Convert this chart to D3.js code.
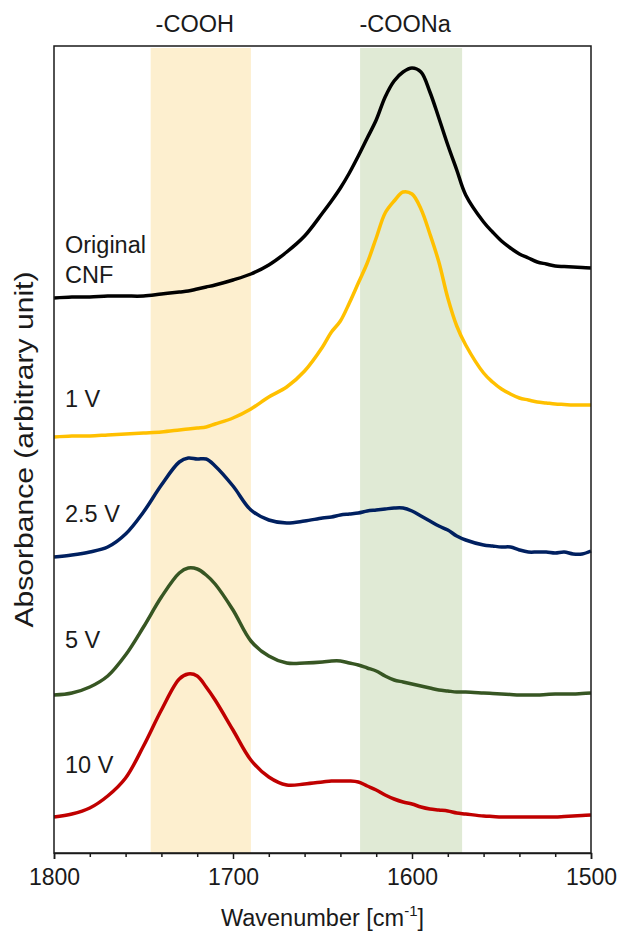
<!DOCTYPE html>
<html>
<head>
<meta charset="utf-8">
<script src="https://cdn.jsdelivr.net/npm/d3@7"></script>
<style>
  html, body { margin: 0; padding: 0; background: #fff; }
  svg text { font-family: "Liberation Sans", Arial, sans-serif; fill: #1a1a1a; }
</style>
</head>
<body>
<svg id="chart" width="620" height="941"></svg>
<script>
// ---- data ----
const wavenumbers = [1800,1790,1780,1770,1760,1750,1740,1730,1725,1720,1715,1710,1700,1690,1680,1670,1660,1650,1645,1640,1635,1630,1625,1620,1615,1610,1605,1600,1595,1590,1585,1580,1575,1570,1560,1555,1550,1545,1540,1535,1530,1525,1520,1515,1510,1505,1500];

const originalCNF = [5.55,5.56,5.56,5.57,5.57,5.57,5.59,5.61,5.62,5.64,5.66,5.68,5.73,5.79,5.88,6.01,6.17,6.40,6.52,6.65,6.80,6.97,7.15,7.33,7.56,7.72,7.81,7.85,7.81,7.61,7.35,7.08,6.83,6.58,6.31,6.21,6.12,6.05,5.99,5.95,5.91,5.89,5.87,5.865,5.86,5.855,5.85];
const v1 = [4.16,4.17,4.17,4.18,4.19,4.20,4.21,4.23,4.24,4.25,4.26,4.29,4.35,4.44,4.56,4.66,4.82,5.06,5.21,5.32,5.50,5.70,5.90,6.15,6.40,6.52,6.61,6.59,6.44,6.19,5.91,5.55,5.27,5.08,4.80,4.71,4.64,4.59,4.55,4.53,4.51,4.50,4.49,4.485,4.48,4.48,4.48];
const v2_5 = [2.96,2.98,3.01,3.06,3.19,3.41,3.68,3.91,3.95,3.94,3.94,3.87,3.67,3.43,3.33,3.30,3.32,3.35,3.36,3.38,3.39,3.40,3.42,3.43,3.44,3.45,3.45,3.42,3.37,3.32,3.27,3.23,3.17,3.13,3.08,3.07,3.06,3.06,3.03,3.01,3.01,3.01,3.00,3.01,2.99,2.99,3.02];
const v5 = [1.58,1.60,1.66,1.77,1.98,2.26,2.56,2.80,2.85,2.84,2.78,2.69,2.43,2.12,1.97,1.90,1.90,1.91,1.92,1.92,1.90,1.88,1.85,1.82,1.77,1.73,1.71,1.69,1.67,1.65,1.63,1.62,1.61,1.61,1.60,1.595,1.59,1.585,1.58,1.58,1.58,1.585,1.59,1.59,1.59,1.595,1.60];
const v10 = [0.36,0.39,0.45,0.57,0.75,1.07,1.43,1.74,1.79,1.77,1.66,1.53,1.23,0.93,0.76,0.68,0.69,0.71,0.72,0.72,0.72,0.71,0.67,0.63,0.58,0.54,0.51,0.49,0.46,0.44,0.43,0.42,0.40,0.39,0.37,0.365,0.36,0.36,0.36,0.36,0.36,0.36,0.36,0.365,0.37,0.375,0.38];

const seriesNames = ["Original\nCNF", "1 V", "2.5 V", "5 V", "10 V"];
const seriesValues = [originalCNF, v1, v2_5, v5, v10];
const seriesColors = ["#000000", "#FFC000", "#002060", "#375623", "#C00000"];
const labelValues = [5.70, 4.46, 3.31, 2.05, 0.80];   // label baselines (last line) in y units

const bandNames = ["-COOH", "-COONa"];
const bandRanges = [[1746, 1690], [1629, 1572]];
const bandColors = ["#FDEFCF", "#E0EAD5"];

const xTicks = [1800, 1700, 1600, 1500];
const xMinorTicks = d3.range(1800, 1499, -20);
const xTitle = "Wavenumber [cm";
const yTitle = "Absorbance (arbitrary unit)";

// ---- layout ----
const svg = d3.select("#chart");
const mLeft = 54, mRight = 591, mTop = 46, mBottom = 853;
const FS = 23.5;

const x = d3.scaleLinear().domain([1800, 1500]).range([mLeft, mRight]);
const y = d3.scaleLinear().domain([0, 8.07]).range([mBottom, mTop]);

// bands
svg.append("g").selectAll("rect").data(bandRanges).join("rect")
  .attr("x", d => x(d[0]))
  .attr("width", d => x(d[1]) - x(d[0]))
  .attr("y", mTop + 2)
  .attr("height", mBottom - mTop - 2)
  .attr("fill", (d, i) => bandColors[i]);

svg.append("g").selectAll("text").data(bandRanges).join("text")
  .attr("x", d => x((d[0] + d[1]) / 2) - 6)
  .attr("y", 32)
  .attr("text-anchor", "middle")
  .attr("font-size", FS)
  .text((d, i) => bandNames[i]);

// curves
const line = d3.line()
  .x((d, i) => x(wavenumbers[i]))
  .y(d => y(d))
  .curve(d3.curveCatmullRom.alpha(0.5));

svg.append("g").selectAll("path").data(seriesValues).join("path")
  .attr("d", d => line(d))
  .attr("fill", "none")
  .attr("stroke", (d, i) => seriesColors[i])
  .attr("stroke-width", 3.5)
  .attr("stroke-linejoin", "round");

// frame
svg.append("rect")
  .attr("x", mLeft).attr("y", mTop)
  .attr("width", mRight - mLeft).attr("height", mBottom - mTop)
  .attr("fill", "none").attr("stroke", "#1a1a1a").attr("stroke-width", 1.5);

// x axis
const xAxis = d3.axisBottom(x).tickValues(xTicks).tickSize(6).tickPadding(10).tickFormat(d3.format("d"));
const gx = svg.append("g").attr("transform", `translate(0,${mBottom})`).call(xAxis);
gx.select(".domain").attr("stroke", "#1a1a1a").attr("stroke-width", 1.5);
gx.selectAll(".tick line").attr("stroke", "#1a1a1a").attr("stroke-width", 1.5);
gx.selectAll(".tick text").attr("font-size", 23).attr("font-family", "Liberation Sans, Arial, sans-serif").attr("fill", "#1a1a1a");

const gxm = svg.append("g").attr("transform", `translate(0,${mBottom})`)
  .call(d3.axisBottom(x).tickValues(xMinorTicks.filter(t => !xTicks.includes(t))).tickSize(4).tickFormat(""));
gxm.select(".domain").remove();
gxm.selectAll(".tick line").attr("stroke", "#1a1a1a").attr("stroke-width", 1.5);

// axis titles
const xt = svg.append("text")
  .attr("x", (mLeft + mRight) / 2).attr("y", 926)
  .attr("text-anchor", "middle").attr("font-size", FS);
xt.append("tspan").text(xTitle);
xt.append("tspan").attr("font-size", 15).attr("dy", -10).text("-1");
xt.append("tspan").attr("dy", 10).text("]");

svg.append("text")
  .attr("transform", `translate(33,${(mTop + mBottom) / 2}) rotate(-90)`)
  .attr("text-anchor", "middle").attr("font-size", 26)
  .attr("textLength", 356).attr("lengthAdjust", "spacingAndGlyphs")
  .text(yTitle);

// series labels
svg.append("g").selectAll("text").data(seriesNames).join("text")
  .attr("x", 65)
  .attr("y", (d, i) => y(labelValues[i]))
  .attr("font-size", FS)
  .each(function(d, i) {
    const lines = d.split("\n");
    const t = d3.select(this);
    if (lines.length > 1) {
      t.attr("y", y(labelValues[i]) - 30 * (lines.length - 1));
      lines.forEach((l, k) => t.append("tspan").attr("x", 65).attr("dy", k === 0 ? 0 : 30).text(l));
    } else {
      t.text(d);
    }
  });
</script>
</body>
</html>
